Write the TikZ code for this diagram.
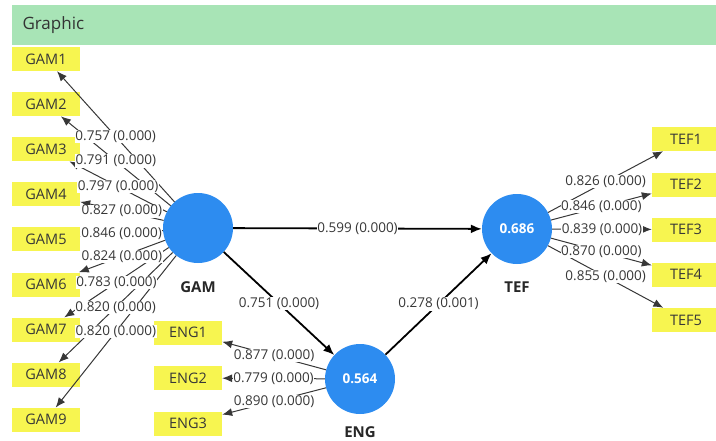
\documentclass[tikz,border=0pt]{standalone}
\usepackage{fontspec}
\setmainfont{Open Sans}
\usetikzlibrary{arrows.meta}

\definecolor{plsblue}{RGB}{45,140,240}
\definecolor{plsyellow}{RGB}{247,245,80}
\definecolor{plsgreen}{RGB}{168,228,182}
\definecolor{plsgray}{RGB}{55,55,55}

\tikzset{
  latent/.style={circle, fill=plsblue, minimum size=70bp, inner sep=0pt, text=white,
    font=\fontsize{13.5bp}{15bp}\selectfont\bfseries},
  tag/.style={text=plsgray!70!black, font=\fontsize{15bp}{17bp}\selectfont\bfseries},
  indicator/.style={fill=plsyellow, minimum width=68bp, minimum height=24bp, inner sep=0pt,
    text=plsgray, font=\fontsize{14.5bp}{16bp}\selectfont},
  loading/.style={line width=1bp, plsgray, -{Latex[length=10bp,width=8bp]}},
  relation/.style={line width=1.8bp, black, -{Latex[length=11bp,width=9bp]}},
  coef/.style={fill=white, inner sep=0.6bp, text=plsgray, font=\fontsize{13.5bp}{15bp}\selectfont}
}

\begin{document}
\begin{tikzpicture}
  \useasboundingbox (0bp,0bp) rectangle (716bp,-441bp);

  \node (header) at (364bp,-25bp) [fill=plsgreen, minimum width=704bp, minimum height=40bp, inner sep=0pt] {};
  \node (title) at (19bp,-25bp) [anchor=west, text=black!80, font=\fontsize{17bp}{19bp}\selectfont] {Graphic};

  \node (GAM) at (198bp,-228bp) [latent] {};
  \node (TEF) at (517bp,-229bp) [latent] {0.686};
  \node (ENG) at (360bp,-379bp) [latent] {0.564};

  \node (GAMtag) at (198bp,-287bp) [tag] {GAM};
  \node (TEFtag) at (517bp,-287bp) [tag] {TEF};
  \node (ENGtag) at (360bp,-432bp) [tag] {ENG};

  \node (GAM1) at (46bp,-59bp)    [indicator] {GAM1};
  \node (GAM2) at (46bp,-104.1bp) [indicator] {GAM2};
  \node (GAM3) at (46bp,-149.2bp) [indicator] {GAM3};
  \node (GAM4) at (46bp,-194.3bp) [indicator] {GAM4};
  \node (GAM5) at (46bp,-239.4bp) [indicator] {GAM5};
  \node (GAM6) at (46bp,-284.5bp) [indicator] {GAM6};
  \node (GAM7) at (46bp,-329.6bp) [indicator] {GAM7};
  \node (GAM8) at (46bp,-374.7bp) [indicator] {GAM8};
  \node (GAM9) at (46bp,-419.8bp) [indicator] {GAM9};

  \node (ENG1) at (188bp,-332.5bp) [indicator] {ENG1};
  \node (ENG2) at (188bp,-378bp)   [indicator] {ENG2};
  \node (ENG3) at (188bp,-423.5bp) [indicator] {ENG3};

  \node (TEF1) at (686bp,-139bp)   [indicator] {TEF1};
  \node (TEF2) at (686bp,-184.5bp) [indicator] {TEF2};
  \node (TEF3) at (686bp,-229.5bp) [indicator] {TEF3};
  \node (TEF4) at (686bp,-274.5bp) [indicator] {TEF4};
  \node (TEF5) at (686bp,-320bp)   [indicator] {TEF5};

  \draw (GAM) -- (GAM1) [loading] coordinate[pos=.5] (GAMl1);
  \draw (GAM) -- (GAM2) [loading] coordinate[pos=.5] (GAMl2);
  \draw (GAM) -- (GAM3) [loading] coordinate[pos=.5] (GAMl3);
  \draw (GAM) -- (GAM4) [loading] coordinate[pos=.5] (GAMl4);
  \draw (GAM) -- (GAM5) [loading] coordinate[pos=.5] (GAMl5);
  \draw (GAM) -- (GAM6) [loading] coordinate[pos=.5] (GAMl6);
  \draw (GAM) -- (GAM7) [loading] coordinate[pos=.5] (GAMl7);
  \draw (GAM) -- (GAM8) [loading] coordinate[pos=.5] (GAMl8);
  \draw (GAM) -- (GAM9) [loading] coordinate[pos=.5] (GAMl9);

  \draw (ENG) -- (ENG1) [loading] coordinate[pos=.5] (ENGl1);
  \draw (ENG) -- (ENG2) [loading] coordinate[pos=.5] (ENGl2);
  \draw (ENG) -- (ENG3) [loading] coordinate[pos=.5] (ENGl3);

  \draw (TEF) -- (TEF1) [loading] coordinate[pos=.5] (TEFl1);
  \draw (TEF) -- (TEF2) [loading] coordinate[pos=.5] (TEFl2);
  \draw (TEF) -- (TEF3) [loading] coordinate[pos=.5] (TEFl3);
  \draw (TEF) -- (TEF4) [loading] coordinate[pos=.5] (TEFl4);
  \draw (TEF) -- (TEF5) [loading] coordinate[pos=.5] (TEFl5);

  \draw (GAM) -- (TEF) [relation] coordinate[pos=.5] (GAMTEF);
  \draw (GAM) -- (ENG) [relation] coordinate[pos=.5] (GAMENG);
  \draw (ENG) -- (TEF) [relation] coordinate[pos=.5] (ENGTEF);

  \node at (GAMl1) [coef] {0.757 (0.000)};
  \node at (GAMl2) [coef] {0.791 (0.000)};
  \node at (GAMl3) [coef] {0.797 (0.000)};
  \node at (GAMl4) [coef] {0.827 (0.000)};
  \node at (GAMl5) [coef] {0.846 (0.000)};
  \node at (GAMl6) [coef] {0.824 (0.000)};
  \node at (GAMl7) [coef] {0.783 (0.000)};
  \node at (GAMl8) [coef] {0.820 (0.000)};
  \node at (GAMl9) [coef] {0.820 (0.000)};

  \node at (ENGl1) [coef] {0.877 (0.000)};
  \node at (ENGl2) [coef] {0.779 (0.000)};
  \node at (ENGl3) [coef] {0.890 (0.000)};

  \node at (TEFl1) [coef] {0.826 (0.000)};
  \node at (TEFl2) [coef] {0.846 (0.000)};
  \node at (TEFl3) [coef] {0.839 (0.000)};
  \node at (TEFl4) [coef] {0.870 (0.000)};
  \node at (TEFl5) [coef] {0.855 (0.000)};

  \node at (GAMTEF) [coef] {0.599 (0.000)};
  \node at (GAMENG) [coef] {0.751 (0.000)};
  \node at (ENGTEF) [coef] {0.278 (0.001)};
\end{tikzpicture}
\end{document}
